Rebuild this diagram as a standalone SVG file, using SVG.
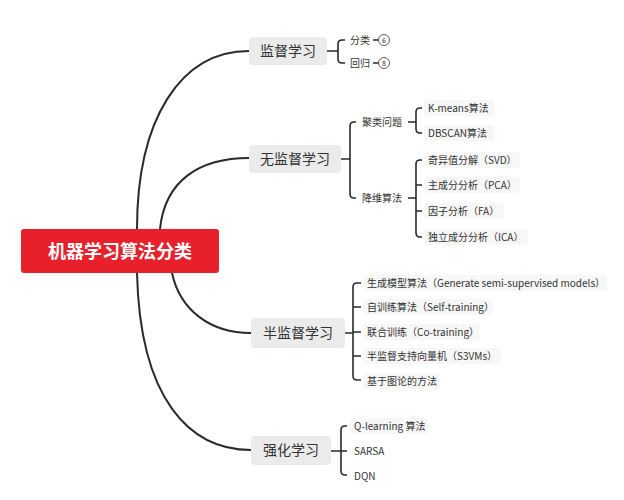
<svg xmlns="http://www.w3.org/2000/svg" width="624" height="500" viewBox="0 0 624 500">
<style>
text{font-family:"Noto Sans CJK SC","Liberation Sans",sans-serif;fill:#333}
.b{fill:#ebebeb}
.bt{font-size:14px}
.l{font-size:10px}
.lb{fill:#f7f7f7}
.c{fill:none;stroke:#2a2a2a;stroke-width:2}
.s{fill:none;stroke:#2a2a2a;stroke-width:1.6}
</style>
<rect width="624" height="500" fill="#fff"/>
<g id="connectors">
<path class="c" d="M137,229 C137,120 180,51 249,51"/>
<path class="c" d="M160,229 C165,180 200,158 249,158"/>
<path class="c" d="M172,273 C180,310 210,333 251,333"/>
<path class="c" d="M137,273 C140,400 190,450 251,450"/>
<path class="s" d="M327,51 H338 M345,40 H342 Q338,40 338,44 V59 Q338,63 342,63 H345"/>
<path class="s" d="M373,40 H379 M373,63 H379"/>
<path class="s" d="M341,159 H350 M356,122 H354 Q350,122 350,126 V194 Q350,198 354,198 H356"/>
<path class="s" d="M408,122 H416 M422,108 H420 Q416,108 416,112 V129 Q416,133 420,133 H422"/>
<path class="s" d="M408,198 H416 M422,160 H420 Q416,160 416,164 V233 Q416,237 420,237 H422 M416,185 H422 M416,211 H422"/>
<path class="s" d="M345,333 H353 M361,283 H357 Q353,283 353,287 V376 Q353,380 357,380 H361 M353,307 H361 M353,332 H361 M353,356 H361"/>
<path class="s" d="M331,451 H341 M347,426 H345 Q341,426 341,430 V471 Q341,475 345,475 H347 M341,451 H347"/>
</g>
<g id="root"><rect x="21" y="229" width="198" height="44" rx="3" fill="#e8202c"/><text x="120" y="258" text-anchor="middle" style="fill:#fff;font-size:18px;font-weight:bold">机器学习算法分类</text></g>
<g id="n1"><rect class="b" x="249" y="37" width="78" height="28" rx="4"/><text class="bt" x="288" y="56" text-anchor="middle">监督学习</text></g>
<g id="n1a"><text class="l" x="350" y="44">分类</text><circle cx="384" cy="40" r="5.5" fill="#fff" stroke="#333" stroke-width="0.8"/><text x="384" y="43" text-anchor="middle" style="font-size:7px">6</text></g>
<g id="n1b"><text class="l" x="350" y="67">回归</text><circle cx="384" cy="63" r="5.5" fill="#fff" stroke="#333" stroke-width="0.8"/><text x="384" y="66" text-anchor="middle" style="font-size:7px">8</text></g>
<g id="n2"><rect class="b" x="249" y="145" width="92" height="28" rx="4"/><text class="bt" x="295" y="164" text-anchor="middle">无监督学习</text></g>
<g id="n2a"><text class="l" x="362" y="126">聚类问题</text></g>
<g id="n2b"><text class="l" x="362" y="202">降维算法</text></g>
<g id="n2a1"><rect class="lb" x="424" y="100" width="70" height="16" rx="3"/><text class="l" x="428" y="112">K-means算法</text></g>
<g id="n2a2"><rect class="lb" x="424" y="125" width="70" height="16" rx="3"/><text class="l" x="428" y="137">DBSCAN算法</text></g>
<g id="n2b1"><rect class="lb" x="424" y="152" width="96" height="16" rx="3"/><text class="l" x="428" y="164">奇异值分解（SVD）</text></g>
<g id="n2b2"><rect class="lb" x="424" y="177" width="96" height="16" rx="3"/><text class="l" x="428" y="189">主成分分析（PCA）</text></g>
<g id="n2b3"><rect class="lb" x="424" y="203" width="80" height="16" rx="3"/><text class="l" x="428" y="215">因子分析（FA）</text></g>
<g id="n2b4"><rect class="lb" x="424" y="229" width="104" height="16" rx="3"/><text class="l" x="428" y="241">独立成分分析（ICA）</text></g>
<g id="n3"><rect class="b" x="251" y="318" width="94" height="30" rx="4"/><text class="bt" x="298" y="338" text-anchor="middle">半监督学习</text></g>
<g id="n3a"><rect class="lb" x="363" y="275" width="244" height="16" rx="3"/><text class="l" x="367" y="287">生成模型算法（Generate semi-supervised models）</text></g>
<g id="n3b"><rect class="lb" x="363" y="299" width="130" height="16" rx="3"/><text class="l" x="367" y="311">自训练算法（Self-training）</text></g>
<g id="n3c"><rect class="lb" x="363" y="324" width="116" height="16" rx="3"/><text class="l" x="367" y="336">联合训练（Co-training）</text></g>
<g id="n3d"><rect class="lb" x="363" y="348" width="138" height="16" rx="3"/><text class="l" x="367" y="360">半监督支持向量机（S3VMs）</text></g>
<g id="n3e"><rect class="lb" x="363" y="373" width="76" height="16" rx="3"/><text class="l" x="367" y="385">基于图论的方法</text></g>
<g id="n4"><rect class="b" x="251" y="436" width="80" height="29" rx="4"/><text class="bt" x="291" y="455" text-anchor="middle">强化学习</text></g>
<g id="n4a"><rect class="lb" x="350" y="418" width="78" height="16" rx="3"/><text class="l" x="354" y="430">Q-learning 算法</text></g>
<g id="n4b"><text class="l" x="354" y="455">SARSA</text></g>
<g id="n4c"><text class="l" x="354" y="480">DQN</text></g>
</svg>
